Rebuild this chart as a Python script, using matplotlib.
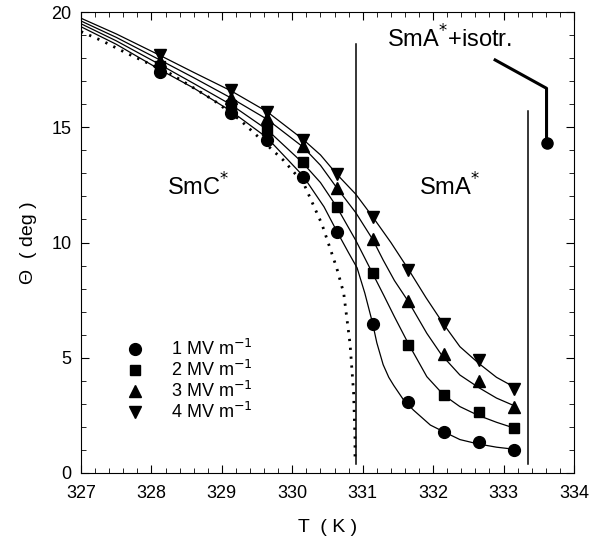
import matplotlib
matplotlib.use("Agg")
import matplotlib.pyplot as plt
from matplotlib.ticker import MultipleLocator

plt.rcParams['font.family'] = ['Liberation Sans', 'DejaVu Sans']

# measured points (T in K, tilt angle in deg)
temps = [328.12, 329.13, 329.64, 330.15, 330.63, 331.14, 331.64, 332.15, 332.65, 333.15]
theta_1 = [17.41, 15.62, 14.45, 12.86, 10.47, 6.46, 3.09, 1.79, 1.36, 1.00]
theta_2 = [17.65, 15.95, 14.88, 13.48, 11.53, 8.66, 5.55, 3.38, 2.66, 1.94]
theta_3 = [17.88, 16.27, 15.40, 14.20, 12.38, 10.14, 7.46, 5.15, 4.00, 2.88]
theta_4 = [18.13, 16.60, 15.68, 14.45, 12.97, 11.12, 8.82, 6.45, 4.90, 3.63]

# fitted curves
fit1_t = [327.0, 327.5, 328.12, 328.6, 329.13, 329.64, 330.15, 330.45, 330.63, 330.8, 330.92,
          331.03, 331.14, 331.2, 331.29, 331.37, 331.44, 331.58, 331.72, 331.96, 332.15,
          332.38, 332.64, 332.9, 333.18]
fit1_y = [19.36, 18.6, 17.5, 16.7, 15.7, 14.55, 12.9, 11.55, 10.5, 9.55, 8.9,
          7.8, 6.5, 5.65, 4.7, 4.15, 3.8, 3.17, 2.73, 2.08, 1.79,
          1.45, 1.26, 1.12, 1.02]
fit2_t = [327.0, 327.5, 328.12, 328.6, 329.13, 329.64, 330.15, 330.4, 330.63, 330.9, 331.14,
          331.3, 331.45, 331.65, 331.91, 332.15, 332.38, 332.64, 332.9, 333.18]
fit2_y = [19.49, 18.75, 17.72, 16.9, 15.98, 14.9, 13.45, 12.6, 11.55, 10.1, 8.66,
          7.7, 6.78, 5.6, 4.18, 3.38, 2.88, 2.5, 2.2, 1.92]
fit3_t = [327.0, 327.5, 328.12, 328.6, 329.13, 329.64, 330.15, 330.4, 330.63, 330.9, 331.14,
          331.29, 331.45, 331.65, 331.91, 332.12, 332.38, 332.65, 332.9, 333.18]
fit3_y = [19.61, 18.9, 17.92, 17.15, 16.27, 15.35, 14.15, 13.35, 12.38, 11.3, 10.14,
          9.24, 8.35, 7.43, 6.06, 5.12, 4.25, 3.7, 3.25, 2.88]
fit4_t = [327.0, 327.5, 328.12, 328.6, 329.13, 329.64, 330.15, 330.4, 330.63, 330.9, 331.14,
          331.4, 331.65, 331.9, 332.15, 332.38, 332.65, 332.9, 333.18]
fit4_y = [19.73, 19.05, 18.12, 17.38, 16.58, 15.68, 14.48, 13.8, 12.97, 12.1, 11.12,
          10.0, 8.83, 7.6, 6.45, 5.48, 4.75, 4.15, 3.68]

# zero-field curve (dotted)
zero_t = [327.0, 327.3, 327.65, 328.26, 328.88, 329.26, 329.87, 330.16, 330.42, 330.63,
          330.73, 330.82, 330.87, 330.89, 330.89]
zero_y = [19.15, 18.75, 18.21, 17.34, 16.18, 15.31, 13.58, 12.57, 10.8, 8.9,
          7.8, 5.6, 3.5, 1.5, 0.45]

# phase boundaries
bound_t = [330.91, 333.35]
bound_top = [18.6, 15.7]
bound_bottom = 0.4

# leader for SmA*+isotr.
lead_t = [332.88, 333.61, 333.61]
lead_y = [17.92, 16.69, 14.3]

labels = ['1 MV m$^{-1}$', '2 MV m$^{-1}$', '3 MV m$^{-1}$', '4 MV m$^{-1}$']

fig = plt.figure(figsize=(6.02, 5.46), dpi=100)
ax = fig.add_axes([0.1346, 0.1337, 0.8189, 0.8443])

for t, y in [(fit1_t, fit1_y), (fit2_t, fit2_y), (fit3_t, fit3_y), (fit4_t, fit4_y)]:
    ax.plot(t, y, color='black', lw=0.9)
ax.plot(zero_t, zero_y, color='black', lw=2, linestyle=(0, (0.8, 2.4)))

ax.plot(temps, theta_1, 'o', color='black', ms=8.5, label=labels[0])
ax.plot(temps, theta_2, 's', color='black', ms=7.5, label=labels[1])
ax.plot(temps, theta_3, '^', color='black', ms=9, label=labels[2])
ax.plot(temps, theta_4, 'v', color='black', ms=9, label=labels[3])

for t, top in zip(bound_t, bound_top):
    ax.plot([t, t], [bound_bottom, top], color='black', lw=1.1)

ax.plot(lead_t, lead_y, color='black', lw=2.2)
ax.plot(lead_t[-1], lead_y[-1], 'o', color='black', ms=8)

ax.text(328.66, 12.4, 'SmC$^{*}$', fontsize=17, ha='center', va='center')
ax.text(332.23, 12.4, 'SmA$^{*}$', fontsize=17, ha='center', va='center')
ax.text(332.24, 18.85, 'SmA$^{*}$+isotr.', fontsize=17, ha='center', va='center')

leg = ax.legend(loc='upper left', bbox_to_anchor=(0.095, 0.29), frameon=False,
                fontsize=13, handlelength=0.8, handletextpad=1.6,
                labelspacing=0.05, borderaxespad=0, borderpad=0)

ax.set_xlim(327, 334)
ax.set_ylim(0, 20)
ax.xaxis.set_major_locator(MultipleLocator(1))
ax.xaxis.set_minor_locator(MultipleLocator(0.2))
ax.yaxis.set_major_locator(MultipleLocator(5))
ax.yaxis.set_minor_locator(MultipleLocator(1))
ax.tick_params(which='both', direction='in', top=True, right=True, labelsize=13)
ax.tick_params(axis='x', which='both', pad=9)
ax.tick_params(axis='y', which='both', pad=7)
ax.tick_params(which='major', length=6)
ax.tick_params(which='minor', length=3.5)

ax.set_xlabel('T  ( K )', fontsize=14, labelpad=12)
ax.set_ylabel('Θ  ( deg )', fontsize=14, labelpad=10)

fig.savefig('out.png', dpi=100)
